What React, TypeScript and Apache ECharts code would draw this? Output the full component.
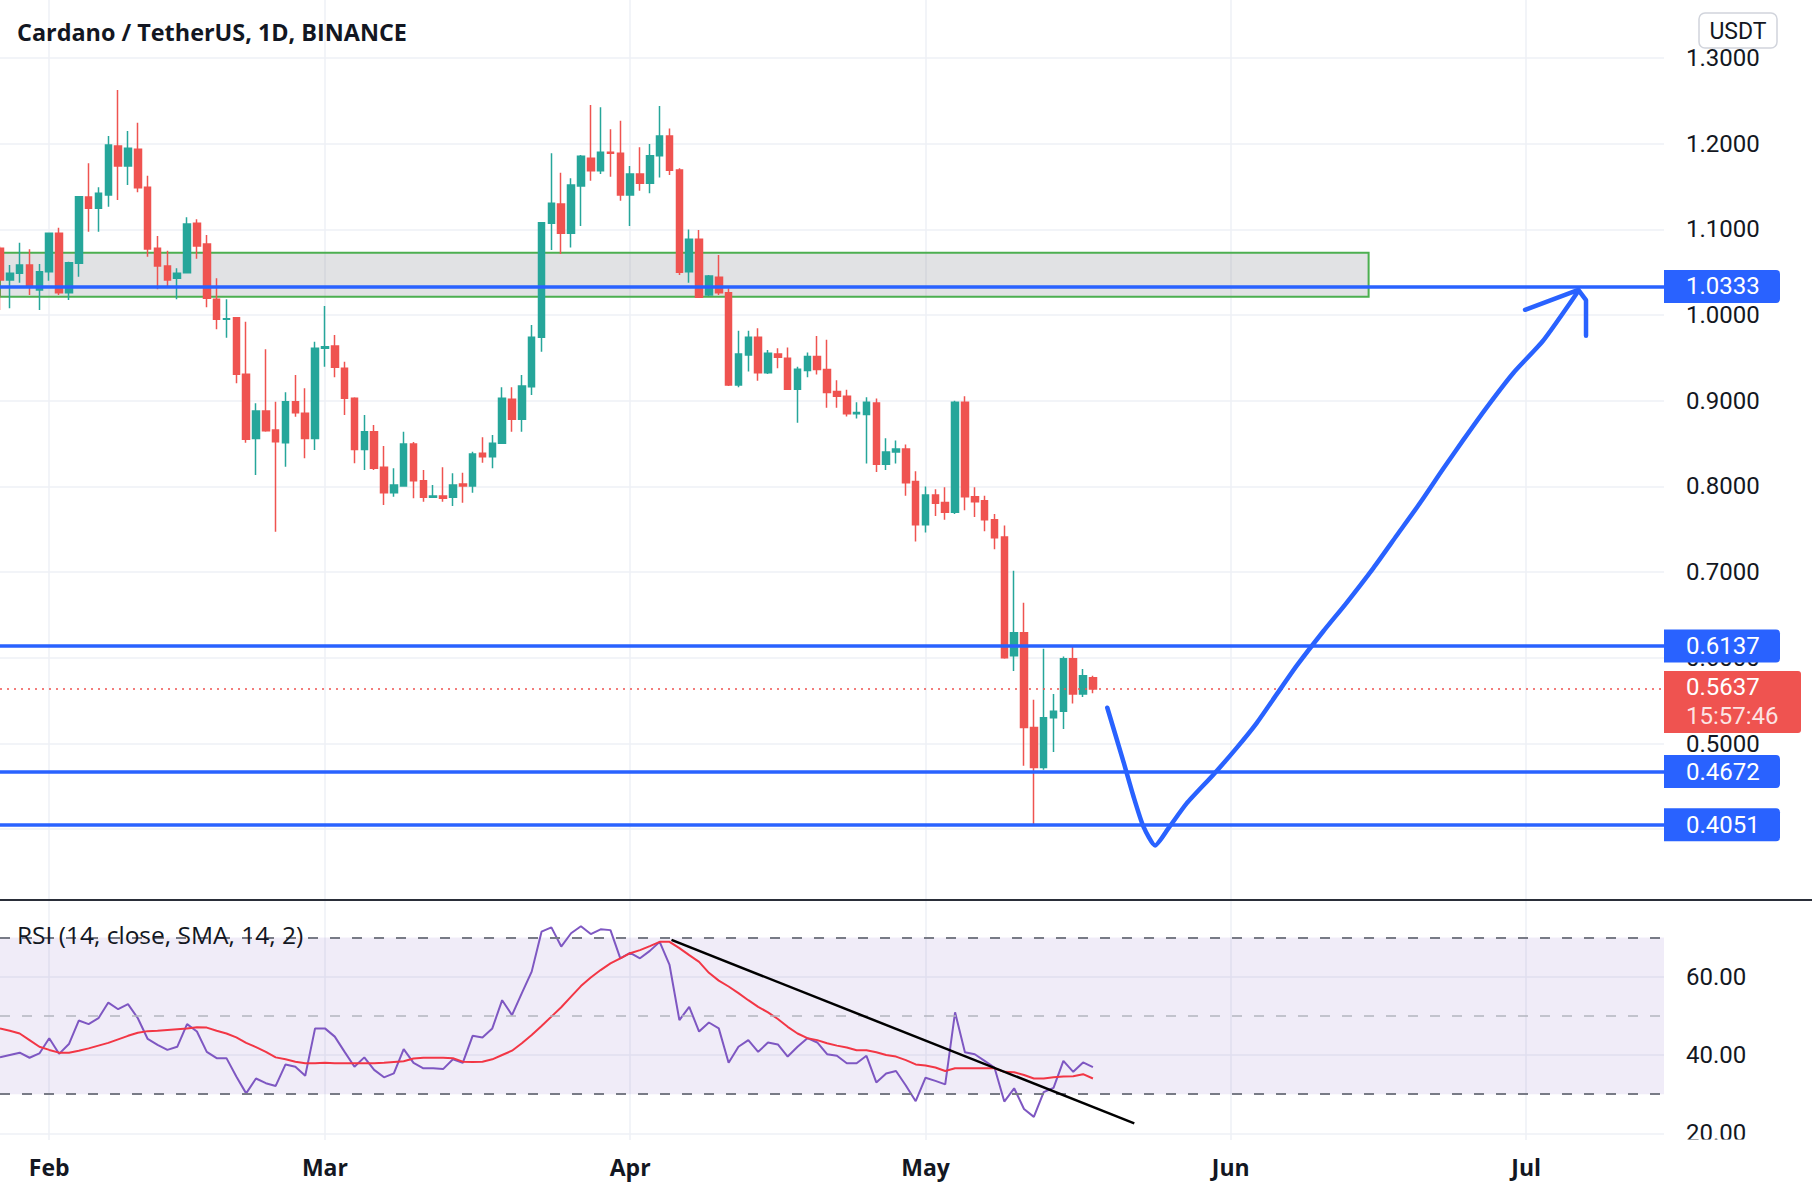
import React, { useEffect, useRef } from "react";
import * as echarts from "echarts";

// ---------- axis / categories ----------
const START_UTC = Date.UTC(2022, 0, 27);
const DAY_MS = 86400000;
const AXIS_DAYS = 170; // Jan 27 .. Jul 15
const MONTHS = ["Jan", "Feb", "Mar", "Apr", "May", "Jun", "Jul", "Aug", "Sep", "Oct", "Nov", "Dec"];
const dates = Array.from({ length: AXIS_DAYS }, (_, i) => new Date(START_UTC + i * DAY_MS));
const categories = dates.map((d) => d.toISOString().slice(0, 10));
const isMonthStart = (i: number) => !!dates[i] && dates[i].getUTCDate() === 1;

// ---------- candles (ADA/USDT daily) ----------
const opens = [
  1.0778, 1.0408, 1.0486, 1.0584, 1.0292, 1.0506, 1.0953, 1.0260, 1.0603, 1.1377,
  1.1245, 1.1400, 1.1972, 1.1739, 1.1933, 1.1490, 1.0778, 1.0572, 1.0428, 1.0494,
  1.1070, 1.0829, 1.0183, 0.9950, 0.9969, 0.9308, 0.8560, 0.8880, 0.8658, 0.8510,
  0.8989, 0.8853, 0.8560, 0.9611, 0.9638, 0.9378, 0.9028, 0.8432, 0.8639, 0.8223,
  0.7927, 0.8004, 0.8495, 0.8066, 0.7873, 0.7888, 0.7873, 0.8028, 0.8004, 0.8386,
  0.8347, 0.8503, 0.9016, 0.8783, 0.9163, 0.9740, 1.1070, 1.1295, 1.0953, 1.1505,
  1.1828, 1.1684, 1.1898, 1.1887, 1.1400, 1.1645, 1.1537, 1.1859, 1.2089, 1.1692,
  1.0506, 1.0883, 1.0233, 1.0440, 1.0260, 0.9183, 0.9533, 0.9740, 0.9327, 0.9545,
  0.9494, 0.9133, 0.9351, 0.9517, 0.9365, 0.9106, 0.9053, 0.8847, 0.8838, 0.8972,
  0.8258, 0.8400, 0.8436, 0.8057, 0.7552, 0.7901, 0.7811, 0.7699, 0.8981, 0.7879,
  0.7833, 0.7610, 0.7410, 0.6025, 0.6293, 0.5186, 0.4721, 0.5301, 0.5377, 0.5990,
  0.5579, 0.5766,
];
const closes = [
  1.0408, 1.0486, 1.0584, 1.0330, 1.0506, 1.0953, 1.0260, 1.0610, 1.1380, 1.1245,
  1.1420, 1.1984, 1.1739, 1.1945, 1.1486, 1.0770, 1.0572, 1.0408, 1.0486, 1.1062,
  1.0805, 1.0195, 0.9950, 0.9957, 0.9308, 0.8549, 0.8880, 0.8650, 0.8521, 0.8989,
  0.8860, 0.8560, 0.9611, 0.9630, 0.9390, 0.9028, 0.8432, 0.8639, 0.8211, 0.7927,
  0.8016, 0.8495, 0.8066, 0.7873, 0.7888, 0.7861, 0.8016, 0.8004, 0.8378, 0.8347,
  0.8503, 0.9028, 0.8783, 0.9171, 0.9740, 1.1077, 1.1303, 1.0953, 1.1517, 1.1851,
  1.1684, 1.1898, 1.1887, 1.1400, 1.1645, 1.1537, 1.1859, 1.2089, 1.1689, 1.0498,
  1.0883, 1.0206, 1.0455, 1.0260, 0.9183, 0.9545, 0.9740, 0.9327, 0.9553, 0.9506,
  0.9133, 0.9366, 0.9517, 0.9365, 0.9097, 0.9053, 0.8847, 0.8861, 0.8981, 0.8258,
  0.8400, 0.8436, 0.8043, 0.7552, 0.7901, 0.7803, 0.7699, 0.8981, 0.7879, 0.7820,
  0.7610, 0.7400, 0.6002, 0.6293, 0.5186, 0.4721, 0.5301, 0.5377, 0.5990, 0.5579,
  0.5792, 0.5637,
];
const lows = [
  1.0058, 1.0078, 1.0377, 1.0233, 1.0058, 1.0400, 1.0233, 1.0175, 1.0447, 1.0972,
  1.0972, 1.1264, 1.1342, 1.1517, 1.1432, 1.0680, 1.0300, 1.0330, 1.0183, 1.0494,
  1.0657, 1.0090, 0.9833, 0.9736, 0.9203, 0.8510, 0.8133, 0.8639, 0.7472, 0.8230,
  0.8813, 0.8328, 0.8425, 0.9397, 0.9273, 0.8833, 0.8270, 0.8191, 0.8191, 0.7783,
  0.7880, 0.7997, 0.7861, 0.7822, 0.7873, 0.7822, 0.7771, 0.7810, 0.7927, 0.8277,
  0.8211, 0.8503, 0.8639, 0.8639, 0.9067, 0.9572, 1.0758, 1.0712, 1.0789, 1.1038,
  1.1567, 1.1645, 1.1614, 1.1334, 1.1038, 1.1451, 1.1420, 1.1603, 1.1634, 1.0467,
  1.0377, 1.0206, 1.0222, 1.0233, 0.9171, 0.9156, 0.9340, 0.9234, 0.9311, 0.9378,
  0.9133, 0.8744, 0.9275, 0.9307, 0.8918, 0.8918, 0.8816, 0.8793, 0.8267, 0.8168,
  0.8191, 0.8267, 0.7891, 0.7356, 0.7463, 0.7655, 0.7610, 0.7677, 0.7722, 0.7642,
  0.7476, 0.7266, 0.5990, 0.5846, 0.4739, 0.4051, 0.4694, 0.4900, 0.5168, 0.5467,
  0.5543, 0.5587,
];
const highs = [
  1.0800, 1.0584, 1.0844, 1.0767, 1.0595, 1.0953, 1.1019, 1.0622, 1.1385, 1.1770,
  1.1490, 1.2089, 1.2625, 1.2147, 1.2244, 1.1626, 1.0922, 1.0750, 1.0545, 1.1140,
  1.1117, 1.0933, 1.0428, 1.0183, 0.9975, 0.9922, 0.8970, 0.9600, 0.8989, 0.9098,
  0.9300, 0.9145, 0.9689, 1.0105, 0.9767, 0.9455, 0.9040, 0.8833, 0.8717, 0.8471,
  0.8211, 0.8639, 0.8517, 0.8191, 0.8016, 0.8223, 0.8152, 0.8160, 0.8405, 0.8573,
  0.8600, 0.9156, 0.9156, 0.9300, 0.9883, 1.1080, 1.1887, 1.1660, 1.1595, 1.1867,
  1.2450, 1.2423, 1.2167, 1.2268, 1.1739, 1.1957, 1.1995, 1.2439, 1.2175, 1.1712,
  1.0999, 1.0992, 1.0467, 1.0700, 1.0311, 0.9817, 0.9817, 0.9844, 0.9592, 0.9611,
  0.9622, 0.9397, 0.9561, 0.9754, 0.9710, 0.9240, 0.9128, 0.8981, 0.9040, 0.9026,
  0.8561, 0.8535, 0.8490, 0.8177, 0.7999, 0.7967, 0.7989, 0.9000, 0.9053, 0.7989,
  0.7891, 0.7677, 0.7544, 0.7016, 0.6642, 0.5511, 0.6105, 0.5579, 0.6016, 0.6150,
  0.5868, 0.5792,
];

// ---------- RSI pane ----------
const rsi = [
  39.4, 40.0, 40.6, 39.3, 40.4, 44.3, 40.3, 42.8, 48.8, 47.9,
  49.4, 53.4, 51.7, 53.0, 49.4, 44.1, 42.6, 41.3, 42.1, 47.9,
  46.0, 40.8, 39.2, 39.2, 34.5, 30.2, 34.0, 32.8, 32.1, 37.6,
  37.0, 34.7, 46.8, 46.8, 44.7, 40.8, 37.0, 39.4, 36.2, 34.3,
  35.3, 41.5, 38.0, 36.6, 36.6, 36.4, 38.9, 38.0, 44.9, 44.5,
  46.8, 54.0, 50.2, 55.8, 61.3, 71.5, 72.6, 67.7, 71.1, 72.9,
  70.9, 72.1, 71.9, 64.7, 66.1, 64.7, 66.6, 68.9, 63.0, 48.9,
  52.3, 46.0, 48.3, 46.8, 38.0, 42.1, 43.8, 40.8, 43.2, 42.7,
  39.6, 42.1, 44.3, 43.2, 40.2, 39.8, 37.9, 37.9, 39.8, 33.0,
  35.3, 35.9, 32.2, 28.2, 34.2, 33.4, 32.5, 50.9, 40.7, 40.2,
  38.5, 36.8, 28.1, 31.5, 26.2, 24.2, 30.5, 31.6, 38.5, 35.7,
  38.1, 36.9,
];
const rsiMa = [
  46.8, 46.2, 45.5, 43.8, 42.1, 41.3, 40.6, 40.6, 41.1, 41.7,
  42.4, 43.1, 44.0, 44.9, 45.7, 46.1, 46.2, 46.4, 46.6, 46.8,
  47.1, 47.0, 46.2, 45.5, 44.5, 43.1, 42.0, 40.8, 39.4, 38.9,
  38.3, 37.9, 37.9, 38.0, 37.9, 37.9, 37.9, 37.9, 37.9, 38.0,
  38.2, 38.4, 39.1, 39.3, 39.3, 39.3, 39.2, 38.3, 38.2, 38.3,
  38.9, 40.0, 41.1, 43.0, 45.1, 47.4, 49.8, 52.2, 54.9, 57.6,
  59.8, 61.7, 63.4, 64.7, 66.0, 66.8, 67.8, 68.9, 68.9, 67.3,
  65.5, 63.8, 61.0, 59.0, 57.5, 55.8, 54.0, 52.3, 50.9, 49.2,
  47.2, 45.5, 44.3, 43.8, 43.0, 42.4, 41.9, 41.2, 41.2, 40.7,
  40.0, 39.6, 38.7, 37.6, 37.3, 36.8, 35.9, 36.6, 36.6, 36.6,
  36.6, 36.6, 35.7, 35.6, 34.9, 34.0, 34.0, 34.3, 34.5, 34.6,
  35.1, 34.0,
];
const rsiLevels = [70, 50, 30];

// ---------- annotations ----------
const levelLines = [1.0333, 0.6137, 0.4672, 0.4051];
const countdown = "15:57:46";
const zoneTop = 1.0727;
const zoneBottom = 1.0214;
const zoneEndDay = 139;
// hand-drawn projection (day index, price)
const drawDays = [112.46, 114.09, 115.1, 116.12, 117.31, 118.66, 120.52, 123.23, 125.6, 127.63, 129.66, 131.7, 134.4, 136.78, 139.48, 141.85, 144.22, 146.59, 148.62, 151.0, 153.7, 156.75, 160.3];
const drawPrices = [0.5417, 0.4792, 0.439, 0.4033, 0.381, 0.401, 0.4301, 0.4636, 0.4949, 0.5238, 0.5573, 0.5908, 0.631, 0.6645, 0.7047, 0.7427, 0.7806, 0.8208, 0.8543, 0.8923, 0.9324, 0.9704, 1.028];
const arrowDays = [154.89, 160.3, 161.08, 161.08];
const arrowPrices = [1.0061, 1.0293, 1.0173, 0.9757];
// RSI trendline (day index, RSI)
const trendDays = [68.2, 115.2];
const trendValues = [69.4, 22.55];

const TEXT = "#131722";
const GRID_LINE = "#eef1f6";
const BLUE = "#2962ff";
const UP = "#26a69a";
const DOWN = "#ef5350";
const NUM_FONT = "Roboto";

export default function App() {
  const ref = useRef<HTMLDivElement>(null);
  useEffect(() => {
    if (!ref.current) return;
    const chart = echarts.init(ref.current, null, { renderer: "svg" });
    const last = closes[closes.length - 1];

    const blueLabel = {
      show: true,
      position: "end",
      distance: 0,
      formatter: (p: any) => Number(p.value).toFixed(4),
      color: "#ffffff",
      backgroundColor: BLUE,
      fontSize: 24,
      fontFamily: NUM_FONT,
      lineHeight: 25,
      padding: [4, 0, 4, 22],
      width: 94,
      align: "left",
      borderRadius: [0, 4, 4, 0],
    };
    const redLabel = {
      show: true,
      position: "end",
      distance: 0,
      formatter: (p: any) => `{p|${Number(p.value).toFixed(4)}}\n{t|${countdown}}`,
      backgroundColor: DOWN,
      padding: [2, 0, 2, 22],
      width: 115,
      align: "left",
      offset: [0, 13],
      borderRadius: [0, 3, 3, 0],
      rich: {
        p: { color: "#ffffff", fontSize: 24, fontFamily: NUM_FONT, lineHeight: 29 },
        t: { color: "rgba(255,255,255,0.85)", fontSize: 24, fontFamily: NUM_FONT, lineHeight: 29 },
      },
    };

    const monthSplit = {
      show: true,
      interval: (i: number) => isMonthStart(i),
      lineStyle: { color: GRID_LINE, width: 1.5 },
    };

    const option: any = {
      animation: false,
      backgroundColor: "#ffffff",
      grid: [
        { left: 0, top: 0, width: 1664, height: 900 },
        { left: 0, top: 901, width: 1664, height: 239 },
      ],
      xAxis: [
        {
          type: "category", gridIndex: 0, data: categories, boundaryGap: false,
          axisLabel: { show: false }, axisTick: { show: false }, axisLine: { show: false },
          splitLine: monthSplit,
        },
        {
          type: "category", gridIndex: 1, data: categories, boundaryGap: false,
          axisTick: { show: false }, axisLine: { show: false },
          splitLine: monthSplit,
          axisLabel: {
            show: true,
            interval: (i: number) => isMonthStart(i),
            formatter: (_v: string, i: number) => MONTHS[dates[i].getUTCMonth()],
            color: TEXT, fontSize: 23, fontWeight: "bold", fontFamily: "Open Sans", margin: 15,
          },
        },
        { type: "value", gridIndex: 0, min: 0, max: AXIS_DAYS - 1, show: false },
        { type: "value", gridIndex: 1, min: 0, max: AXIS_DAYS - 1, show: false },
      ],
      yAxis: [
        {
          type: "value", gridIndex: 0, position: "right",
          min: 0.31739, max: 1.36756, splitNumber: 10,
          axisLine: { show: false }, axisTick: { show: false },
          axisLabel: {
            // the 0.4000 tick label sits fully under the 0.4051 level tag
            formatter: (v: number) => (v < 0.45 ? "" : v.toFixed(4)), color: TEXT, fontSize: 24,
            fontFamily: NUM_FONT, margin: 22, showMinLabel: false, showMaxLabel: false,
          },
          splitLine: { show: true, showMinLine: false, showMaxLine: false, lineStyle: { color: GRID_LINE, width: 1.5 } },
        },
        {
          type: "value", gridIndex: 1, position: "right",
          min: 18.29, max: 79.34, splitNumber: 3,
          axisLine: { show: false }, axisTick: { show: false },
          axisLabel: {
            formatter: (v: number) => v.toFixed(2), color: TEXT, fontSize: 24,
            fontFamily: NUM_FONT, margin: 22, showMinLabel: false, showMaxLabel: false,
          },
          splitLine: { show: true, showMinLine: false, showMaxLine: false, lineStyle: { color: GRID_LINE, width: 1.5 } },
        },
      ],
      series: [
        {
          type: "candlestick",
          name: "ADAUSDT",
          xAxisIndex: 0, yAxisIndex: 0,
          barWidth: 7,
          data: opens.map((o, i) => [o, closes[i], lows[i], highs[i]]),
          itemStyle: { color: UP, color0: DOWN, borderColor: UP, borderColor0: DOWN, borderWidth: 1.5 },
          markLine: {
            silent: true,
            symbol: ["none", "none"],
            precision: 4,
            animation: false,
            data: [
              ...levelLines.map((v) => ({
                yAxis: v,
                lineStyle: { color: BLUE, width: 3.5, type: "solid" },
                label: blueLabel,
              })),
              {
                yAxis: last,
                lineStyle: { color: DOWN, width: 1.5, type: [2, 5] },
                label: redLabel,
              },
            ],
          },
        },
        {
          type: "line",
          name: "projection",
          xAxisIndex: 2, yAxisIndex: 0,
          data: drawDays.map((d, i) => [d, drawPrices[i]]),
          showSymbol: false,
          smooth: 0.2,
          z: 6,
          lineStyle: { color: BLUE, width: 4.5, cap: "round", join: "round" },
          markArea: {
            silent: true,
            animation: false,
            itemStyle: { color: "rgba(120,123,134,0.22)", borderColor: "#4caf50", borderWidth: 2 },
            data: [[{ xAxis: -2, yAxis: zoneTop }, { xAxis: zoneEndDay, yAxis: zoneBottom }]],
          },
        },
        {
          type: "line",
          name: "arrow",
          xAxisIndex: 2, yAxisIndex: 0,
          data: arrowDays.map((d, i) => [d, arrowPrices[i]]),
          showSymbol: false,
          z: 6,
          lineStyle: { color: BLUE, width: 4.5, cap: "round", join: "round" },
        },
        {
          type: "line",
          name: "RSI",
          xAxisIndex: 1, yAxisIndex: 1,
          data: rsi,
          showSymbol: false,
          lineStyle: { color: "#7e57c2", width: 2 },
          markArea: {
            silent: true,
            animation: false,
            itemStyle: { color: "rgba(126,87,194,0.115)" },
            data: [[{ yAxis: rsiLevels[0] }, { yAxis: rsiLevels[2] }]],
          },
          markLine: {
            silent: true,
            symbol: ["none", "none"],
            animation: false,
            label: { show: false },
            data: rsiLevels.map((v) => ({
              yAxis: v,
              lineStyle: v === 50
                ? { color: "#b2b5be", width: 1.5, type: [10, 12] }
                : { color: "#787b86", width: 2, type: [10, 12] },
            })),
          },
        },
        {
          type: "line",
          name: "RSI MA",
          xAxisIndex: 1, yAxisIndex: 1,
          data: rsiMa,
          showSymbol: false,
          lineStyle: { color: "#f23645", width: 2 },
        },
        {
          type: "line",
          name: "trend",
          xAxisIndex: 3, yAxisIndex: 1,
          data: trendDays.map((d, i) => [d, trendValues[i]]),
          showSymbol: false,
          z: 6,
          lineStyle: { color: "#000000", width: 2.5 },
        },
      ],
      graphic: [
        {
          type: "line", z: 50,
          shape: { x1: 0, y1: 900, x2: 1812, y2: 900 },
          style: { stroke: "#2a2e39", lineWidth: 2 },
        },
        {
          type: "text", x: 17, y: 32, z: 50,
          style: {
            text: "Cardano / TetherUS, 1D, BINANCE", fill: TEXT, fontSize: 23.4,
            fontWeight: "bold", fontFamily: "Open Sans", verticalAlign: "middle", align: "left",
          },
        },
        {
          type: "text", x: 17, y: 934, z: 50,
          style: {
            text: "RSI (14, close, SMA, 14, 2)", fill: TEXT, fontSize: 24.5,
            fontFamily: "Open Sans", verticalAlign: "middle", align: "left",
          },
        },
        {
          type: "rect", z: 50,
          shape: { x: 1699, y: 13, width: 78, height: 35, r: 6 },
          style: { fill: "#ffffff", stroke: "#d1d4dc", lineWidth: 1.5 },
        },
        {
          type: "text", x: 1738, y: 31, z: 51,
          style: {
            text: "USDT", fill: TEXT, fontSize: 23, fontFamily: NUM_FONT,
            verticalAlign: "middle", align: "center",
          },
        },
        {
          type: "rect", z: 100,
          shape: { x: 1665, y: 1139.5, width: 147, height: 30 },
          style: { fill: "#ffffff" },
        },
      ],
    };
    chart.setOption(option);
    return () => chart.dispose();
  }, []);
  return (
    <div
      ref={ref}
      style={{ position: "fixed", left: 0, top: 0, width: 1812, height: 1194, background: "#fff" }}
    />
  );
}
